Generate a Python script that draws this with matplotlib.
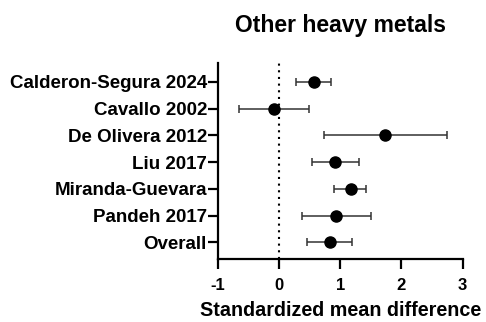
import matplotlib
matplotlib.use("Agg")
import matplotlib.pyplot as plt

plt.rcParams["font.family"] = ["Liberation Sans", "DejaVu Sans"]
plt.rcParams["font.weight"] = "bold"

STUDIES = [
    "Calderon-Segura 2024",
    "Cavallo 2002",
    "De Olivera 2012",
    "Liu 2017",
    "Miranda-Guevara",
    "Pandeh 2017",
    "Overall",
]
SMD = [0.57, -0.08, 1.73, 0.91, 1.17, 0.93, 0.83]
CI_LOW = [0.28, -0.66, 0.73, 0.53, 0.90, 0.38, 0.45]
CI_HIGH = [0.85, 0.49, 2.75, 1.30, 1.42, 1.50, 1.19]
X_TICKS = [-1, 0, 1, 2, 3]


def main() -> int:
    figure = plt.figure(figsize=(4.86, 3.22), dpi=100)
    ax = figure.add_axes([0.4486, 0.1955, 0.5031, 0.6088])

    rows = list(range(len(STUDIES)))
    err_low = [m - lo for m, lo in zip(SMD, CI_LOW)]
    err_high = [hi - m for m, hi in zip(SMD, CI_HIGH)]

    ax.axvline(0, color="black", linestyle=(0, (1, 2.2)), linewidth=1.5, zorder=1)
    ax.errorbar(
        SMD,
        rows,
        xerr=[err_low, err_high],
        fmt="o",
        color="black",
        ecolor="#333333",
        elinewidth=1.1,
        capsize=3.2,
        capthick=1.1,
        markersize=8,
        zorder=3,
    )

    ax.set_xlim(-1, 3)
    ax.set_ylim(6.63, -0.71)
    ax.set_xticks(X_TICKS)
    ax.set_xticklabels([str(t) for t in X_TICKS], fontsize=12, fontweight="bold")
    ax.set_yticks(rows)
    ax.set_yticklabels(STUDIES, fontsize=13.5, fontweight="bold")

    for side in ("top", "right"):
        ax.spines[side].set_visible(False)
    for side in ("left", "bottom"):
        ax.spines[side].set_linewidth(1.6)
    ax.tick_params(axis="both", direction="out", length=7, width=1.6)
    ax.tick_params(axis="x", pad=7)
    ax.tick_params(axis="y", pad=1)

    ax.set_xlabel("Standardized mean difference", fontsize=14.2, fontweight="bold", labelpad=5.5)
    ax.set_title("Other heavy metals", fontsize=16.5, fontweight="bold", pad=22)

    figure.savefig("out.png", dpi=100)
    plt.close(figure)
    return 0


if __name__ == "__main__":
    raise SystemExit(main())
